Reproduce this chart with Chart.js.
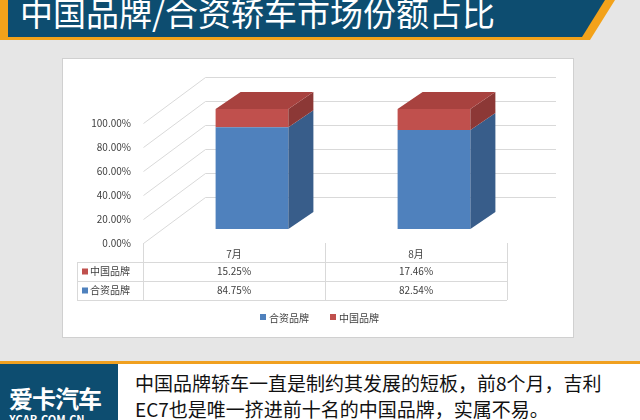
<!DOCTYPE html><html><head><meta charset="utf-8">
<script src="https://cdn.jsdelivr.net/npm/chart.js@4"></script>
<style>
body{margin:0;width:640px;height:420px;background:#e6e6e6;position:relative;overflow:hidden;font-family:"Noto Sans CJK SC",sans-serif}
#hdr{position:absolute;left:0;top:0;width:640px;height:40px;overflow:hidden}
#panel{position:absolute;left:62px;top:58px;width:510px;height:278px;background:#fff;border:1px solid #d0d0d0}
#c{position:absolute;left:0;top:0}
#foot{position:absolute;left:0;top:361px;width:640px;height:59px;background:#fff;border-top:3px solid #f0a020}
#logo{position:absolute;left:0;top:0;width:118px;height:59px;background:#0d4d70;overflow:hidden;color:#fff}
</style></head><body>
<div id="hdr"><svg width="640" height="40"><polygon points="0,0 615,0 590,40 0,40" fill="#f3a21a"/><polygon points="8,0 605,0 582,37 8,37" fill="#0d4d70"/></svg>
<div style="position:absolute;left:20px;top:-12px;color:#fff;font-size:33px;white-space:nowrap">中国品牌/合资轿车市场份额占比</div></div>
<div id="panel"></div>
<div id="foot"><div id="logo"><div style="position:absolute;left:9px;top:16px;font-size:24px;font-weight:bold;letter-spacing:-1px">爱卡汽车</div><div style="position:absolute;left:9px;top:47px;font-size:11px;font-weight:bold">XCAR.COM.CN</div></div>
<div style="position:absolute;left:135px;top:6px;font-size:19px;line-height:26px;color:#111">中国品牌轿车一直是制约其发展的短板，前8个月，吉利<br>EC7也是唯一挤进前十名的中国品牌，实属不易。</div></div>
<canvas id="c" width="640" height="420"></canvas>
<script>
const categories=["7月","8月"];
const jointValues=[84.75,82.54];
const chinaValues=[15.25,17.46];
const seriesNames=["合资品牌","中国品牌"];
const yTicks=[0,20,40,60,80,100];
const DX=25,DY=17,SH=18;
const faces=[{front:"#4f81bd",side:"#385d8a",top:"#6f9bd3"},{front:"#c0504d",side:"#8c3836",top:"#a8423f"}];
const fmt=v=>v.toFixed(2)+"%";
const plug={id:"p3d",
beforeDatasetsDraw(ch){const c=ch.ctx,y=ch.scales.y;c.save();c.strokeStyle="#d9d9d9";c.lineWidth=1;
 c.font="10px 'Noto Sans CJK SC'";c.fillStyle="#404040";c.textAlign="right";c.textBaseline="middle";
 yTicks.forEach(t=>{const p=Math.round(y.getPixelForValue(t));c.beginPath();c.moveTo(143.5,p+14.5);c.lineTo(205.5,p-31.5);c.lineTo(556,p-31.5);c.stroke();c.fillText(fmt(t),131,p+14);});
 const b0=Math.round(y.getPixelForValue(0))+14;c.beginPath();c.moveTo(143.5,b0);c.lineTo(143.5,b0+58);c.stroke();
 c.restore();},
afterDatasetsDraw(ch){const c=ch.ctx;c.save();
 const n=ch.data.labels.length;
 for(let i=0;i<n;i++){for(let d=0;d<2;d++){const b=ch.getDatasetMeta(d).data[i];const l=b.x-b.width/2,r=b.x+b.width/2,t=b.y,bt=b.base;
  c.fillStyle=faces[d].side;c.beginPath();c.moveTo(r,t);c.lineTo(r+DX,t-DY);c.lineTo(r+DX,bt-DY);c.lineTo(r,bt);c.fill();
  if(d===1){c.fillStyle=faces[d].top;c.beginPath();c.moveTo(l,t);c.lineTo(l+DX,t-DY);c.lineTo(r+DX,t-DY);c.lineTo(r,t);c.fill();}}}
 const x=ch.scales.x,ca=ch.chartArea;const L=77,TL=ca.left-SH,R=ca.right-SH;const cw=(R-TL)/n;const t0=243,rh=19;
 c.strokeStyle="#d9d9d9";c.lineWidth=1;
 const hl=(y,a)=>{c.beginPath();c.moveTo(a,Math.round(y)+.5);c.lineTo(R,Math.round(y)+.5);c.stroke();};
 const vl=(xx,a,b)=>{c.beginPath();c.moveTo(Math.round(xx)+.5,a);c.lineTo(Math.round(xx)+.5,b);c.stroke();};
 hl(t0+rh,L);hl(t0+2*rh,L);hl(t0+3*rh,L);
 vl(L,t0+rh,t0+3*rh);for(let k=1;k<=n;k++)vl(TL+k*cw,t0,t0+3*rh);
 c.font="10px 'Noto Sans CJK SC'";c.fillStyle="#404040";c.textAlign="center";c.textBaseline="middle";
 categories.forEach((s,i)=>c.fillText(s,x.getPixelForValue(i)-SH,t0+rh/2+2));
 const rows=[[seriesNames[1],chinaValues,faces[1].front],[seriesNames[0],jointValues,faces[0].front]];
 rows.forEach((rw,k)=>{const yy=t0+rh*(k+1)+rh/2;c.fillStyle=rw[2];c.fillRect(L+5,yy-3,6,6);c.fillStyle="#404040";c.textAlign="left";c.fillText(rw[0],L+13,yy);c.textAlign="center";
  rw[1].forEach((v,i)=>c.fillText(fmt(v),x.getPixelForValue(i)-SH,yy));});
 const ly=317,items=[[seriesNames[0],faces[0].front],[seriesNames[1],faces[1].front]];let lx=260;c.textAlign="left";
 items.forEach(it=>{c.fillStyle=it[1];c.fillRect(lx,ly-3,6,6);c.fillStyle="#404040";c.fillText(it[0],lx+9,ly+1);lx+=70;});
 c.restore();}};
new Chart(document.getElementById("c"),{type:"bar",
data:{labels:categories,datasets:[{label:seriesNames[0],data:jointValues,backgroundColor:faces[0].front},{label:seriesNames[1],data:chinaValues,backgroundColor:faces[1].front}]},
options:{responsive:false,animation:false,layout:{padding:{left:161,right:115,top:109,bottom:191}},
plugins:{legend:{display:false},tooltip:{enabled:false}},
datasets:{bar:{categoryPercentage:1,barPercentage:0.40}},
scales:{x:{stacked:true,display:false},
y:{stacked:true,min:0,max:100,display:false}}},plugins:[plug]});
</script></body></html>
